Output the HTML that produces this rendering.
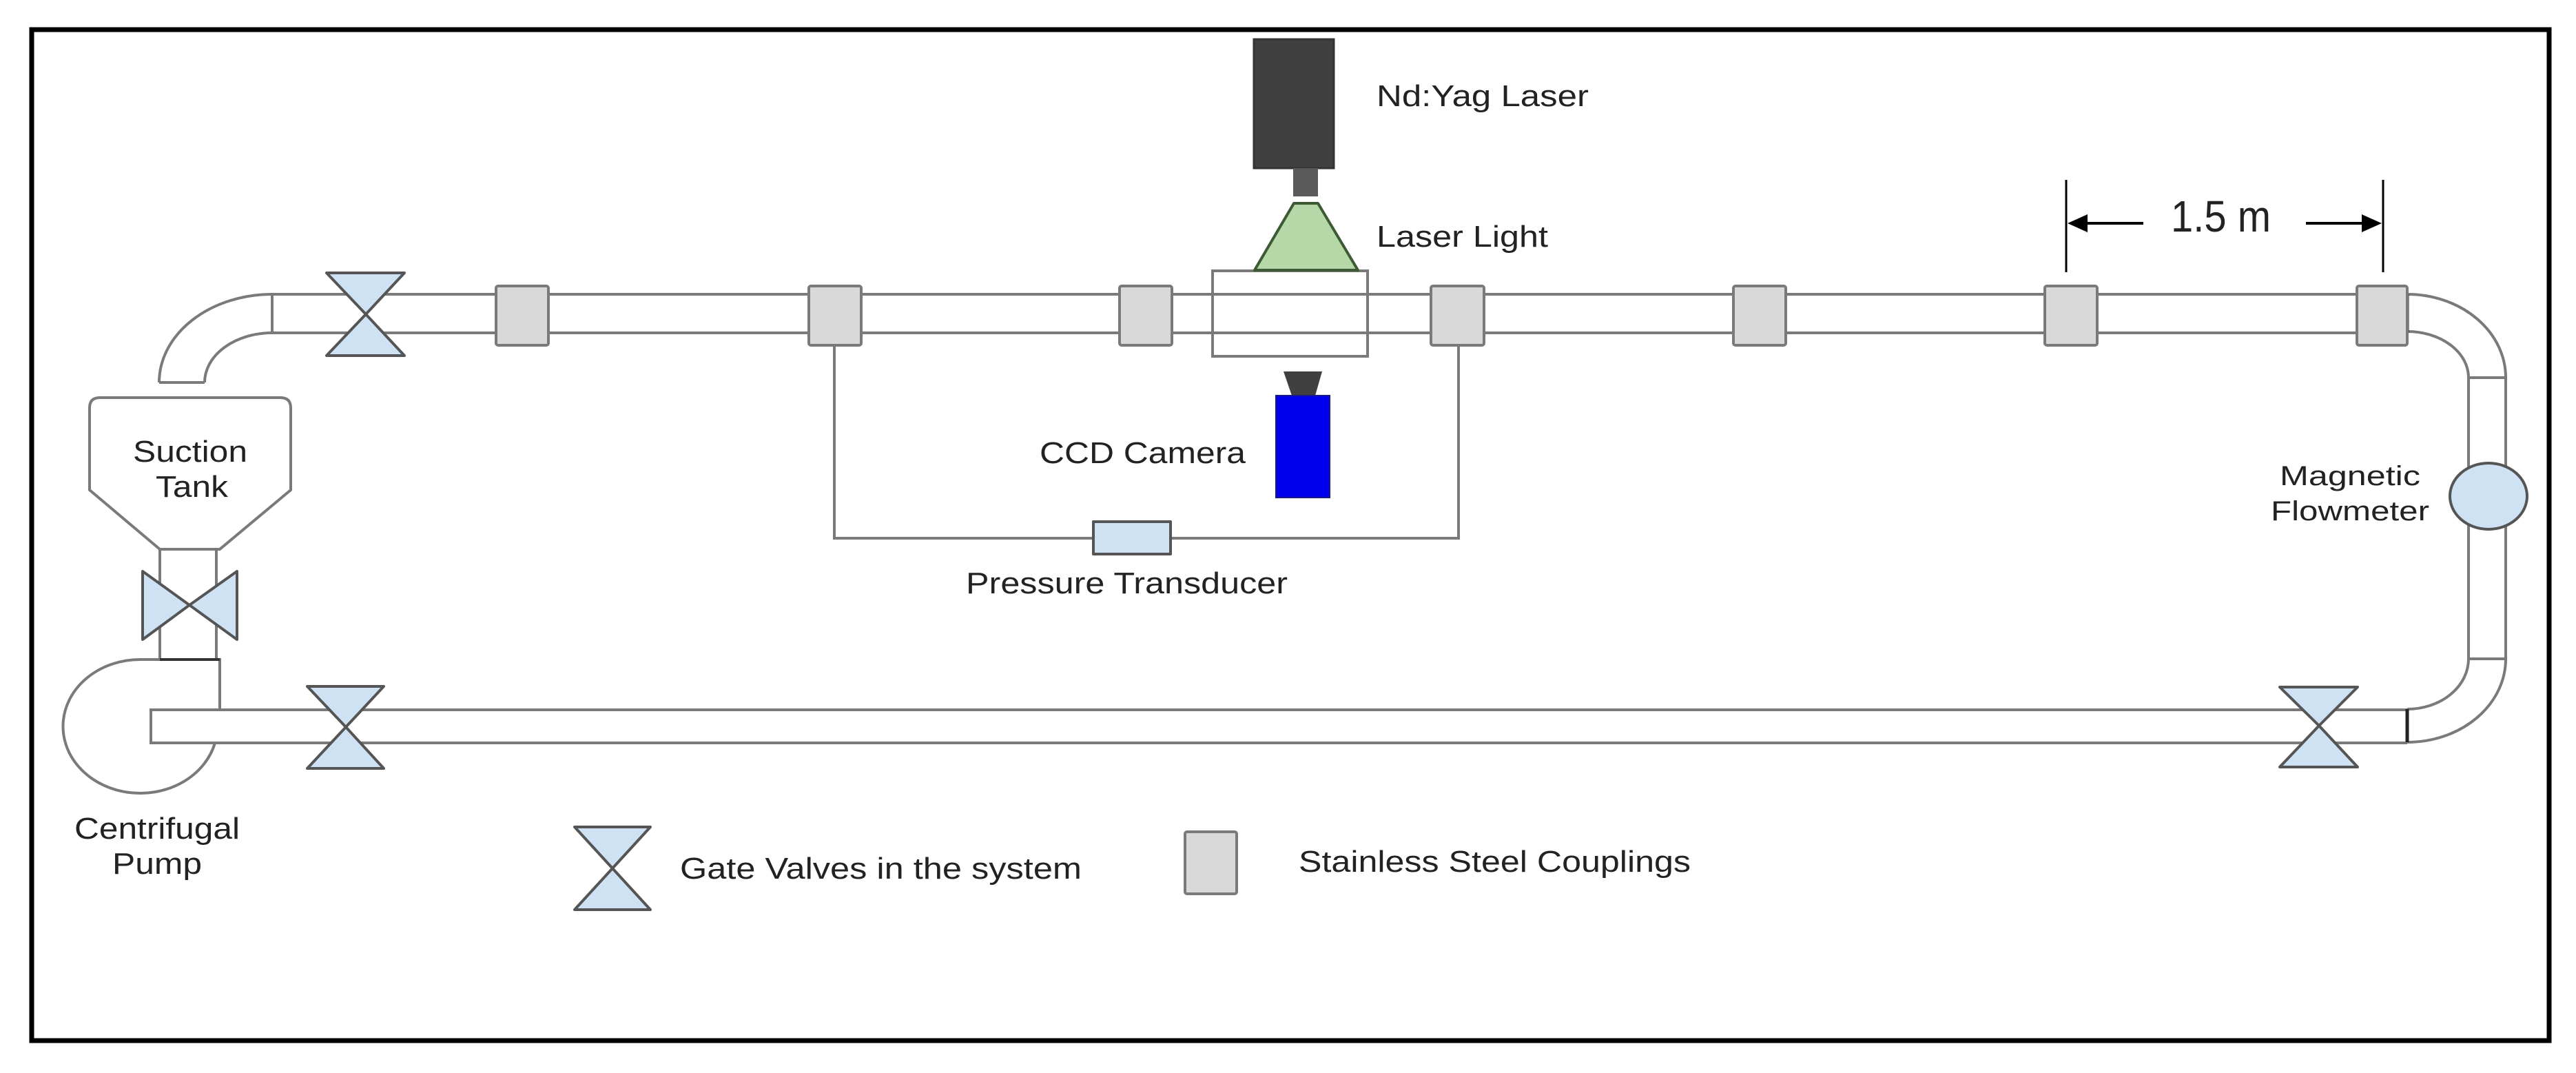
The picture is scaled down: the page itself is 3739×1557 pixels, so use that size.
<!DOCTYPE html>
<html><head><meta charset="utf-8"><style>
html,body{margin:0;padding:0;background:#fff;}
svg{display:block;}
text{font-family:"Liberation Sans",Arial,sans-serif;fill:#222;}
</style></head><body>
<svg width="3739" height="1557" viewBox="0 0 3739 1557" xmlns="http://www.w3.org/2000/svg">
<rect x="0" y="0" width="3739" height="1557" fill="#fff"/>
<rect x="46" y="43" width="3654" height="1467" fill="none" stroke="#000" stroke-width="7"/>

<g stroke="#7a7a7a" stroke-width="4" fill="none">
  <line x1="395" y1="427" x2="3494" y2="427"/>
  <line x1="395" y1="483" x2="3494" y2="483"/>
  <line x1="395" y1="427" x2="395" y2="483"/>
  <path d="M395,427 A164,128 0 0 0 231,555"/>
  <path d="M395,483 A98,72 0 0 0 297,555"/>
  <line x1="231" y1="555" x2="297" y2="555"/>
  <path d="M3494,427 A143,121 0 0 1 3637,548"/>
  <path d="M3494,481 A89,67 0 0 1 3583,548"/>
  <line x1="3583" y1="548" x2="3637" y2="548"/>
  <line x1="3583" y1="548" x2="3583" y2="956"/>
  <line x1="3637" y1="548" x2="3637" y2="956"/>
  <line x1="3583" y1="956" x2="3637" y2="956"/>
  <path d="M3637,956 A143,121 0 0 1 3494,1077"/>
  <path d="M3583,956 A89,73 0 0 1 3494,1029"/>
  <path d="M130,592 Q130,577 145,577 H407 Q422,577 422,592 V711 L319,797 H232 L130,711 Z" fill="#fff"/>
  <line x1="232" y1="797" x2="232" y2="957"/>
  <line x1="314" y1="797" x2="314" y2="957"/>
  <path d="M319,1030 V957 H204 A112,97 0 1 0 312,1078" fill="#fff"/>
  <path d="M3494,1030 H219 V1078 H3494" fill="#fff"/>
  <path d="M1211,501 V781 H2117 V501"/>
  <rect x="1760" y="393" width="225" height="124"/>
</g>
<line x1="232" y1="957" x2="319" y2="957" stroke="#333" stroke-width="4"/>
<line x1="3494" y1="1029" x2="3494" y2="1077" stroke="#222" stroke-width="5"/>
<line x1="3494" y1="427" x2="3494" y2="483" stroke="#222" stroke-width="5"/>

<g fill="#d9d9d9" stroke="#7a7a7a" stroke-width="4">
  <rect x="720" y="415" width="76" height="86" rx="3"/>
  <rect x="1174" y="415" width="76" height="86" rx="3"/>
  <rect x="1625" y="415" width="76" height="86" rx="3"/>
  <rect x="2077" y="415" width="77" height="86" rx="3"/>
  <rect x="2516" y="415" width="76" height="86" rx="3"/>
  <rect x="2968" y="415" width="76" height="86" rx="3"/>
  <rect x="3421" y="415" width="73" height="86" rx="3"/>
  <rect x="1720" y="1207" width="75" height="90" rx="3"/>
</g>

<g fill="#cfe2f3" stroke="#555" stroke-width="4" stroke-linejoin="round">
  <polygon points="474,396 587,396 531,456"/><polygon points="474,516 587,516 531,456"/>
  <polygon points="446,996 557,996 502,1055"/><polygon points="446,1115 557,1115 502,1055"/>
  <polygon points="3309,997 3422,997 3366,1053"/><polygon points="3309,1113 3422,1113 3366,1053"/>
  <polygon points="207,829 207,928 275,878"/><polygon points="344,829 344,928 275,878"/>
  <polygon points="834,1200 944,1200 889,1260"/><polygon points="834,1320 944,1320 889,1260"/>
  <rect x="1587" y="757" width="112" height="47"/>
  <ellipse cx="3612" cy="720" rx="56" ry="48"/>
</g>

<rect x="1820" y="57" width="116" height="187" fill="#404040" stroke="#333" stroke-width="3"/>
<rect x="1877" y="244" width="36" height="41" fill="#5a5a5a"/>
<polygon points="1878,295 1913,295 1971,392 1821,392" fill="#b6d7a8" stroke="#3d5a35" stroke-width="4" stroke-linejoin="round"/>
<polygon points="1863,539 1919,539 1909,574 1875,574" fill="#404040"/>
<rect x="1852" y="574" width="78" height="148" fill="#0000ee" stroke="#1a1a80" stroke-width="2"/>

<g stroke="#000" stroke-width="3">
  <line x1="2999" y1="261" x2="2999" y2="395"/>
  <line x1="3459" y1="261" x2="3459" y2="395"/>
  <line x1="3020" y1="324" x2="3111" y2="324" stroke-width="4"/>
  <line x1="3347" y1="324" x2="3440" y2="324" stroke-width="4"/>
</g>
<polygon points="3001,324 3030,311 3030,337" fill="#000"/>
<polygon points="3457,324 3428,311 3428,337" fill="#000"/>

<text x="1998" y="154" font-size="44" textLength="308" lengthAdjust="spacingAndGlyphs">Nd:Yag Laser</text>
<text x="1998" y="358" font-size="44" textLength="249" lengthAdjust="spacingAndGlyphs">Laser Light</text>
<text x="1509" y="672" font-size="44" textLength="299" lengthAdjust="spacingAndGlyphs">CCD Camera</text>
<text x="1402" y="861" font-size="44" textLength="467" lengthAdjust="spacingAndGlyphs">Pressure Transducer</text>
<text x="193" y="670" font-size="44" textLength="166" lengthAdjust="spacingAndGlyphs">Suction</text>
<text x="226" y="721" font-size="44" textLength="105" lengthAdjust="spacingAndGlyphs">Tank</text>
<text x="108" y="1217" font-size="44" textLength="240" lengthAdjust="spacingAndGlyphs">Centrifugal</text>
<text x="163" y="1268" font-size="44" textLength="130" lengthAdjust="spacingAndGlyphs">Pump</text>
<text x="3309" y="704" font-size="40" textLength="204" lengthAdjust="spacingAndGlyphs">Magnetic</text>
<text x="3296" y="755" font-size="40" textLength="230" lengthAdjust="spacingAndGlyphs">Flowmeter</text>
<text x="3151" y="336" font-size="64" fill="#000" textLength="145" lengthAdjust="spacingAndGlyphs">1.5 m</text>
<text x="987" y="1275" font-size="44" textLength="583" lengthAdjust="spacingAndGlyphs">Gate Valves in the system</text>
<text x="1885" y="1265" font-size="44" textLength="569" lengthAdjust="spacingAndGlyphs">Stainless Steel Couplings</text>
</svg>
</body></html>
